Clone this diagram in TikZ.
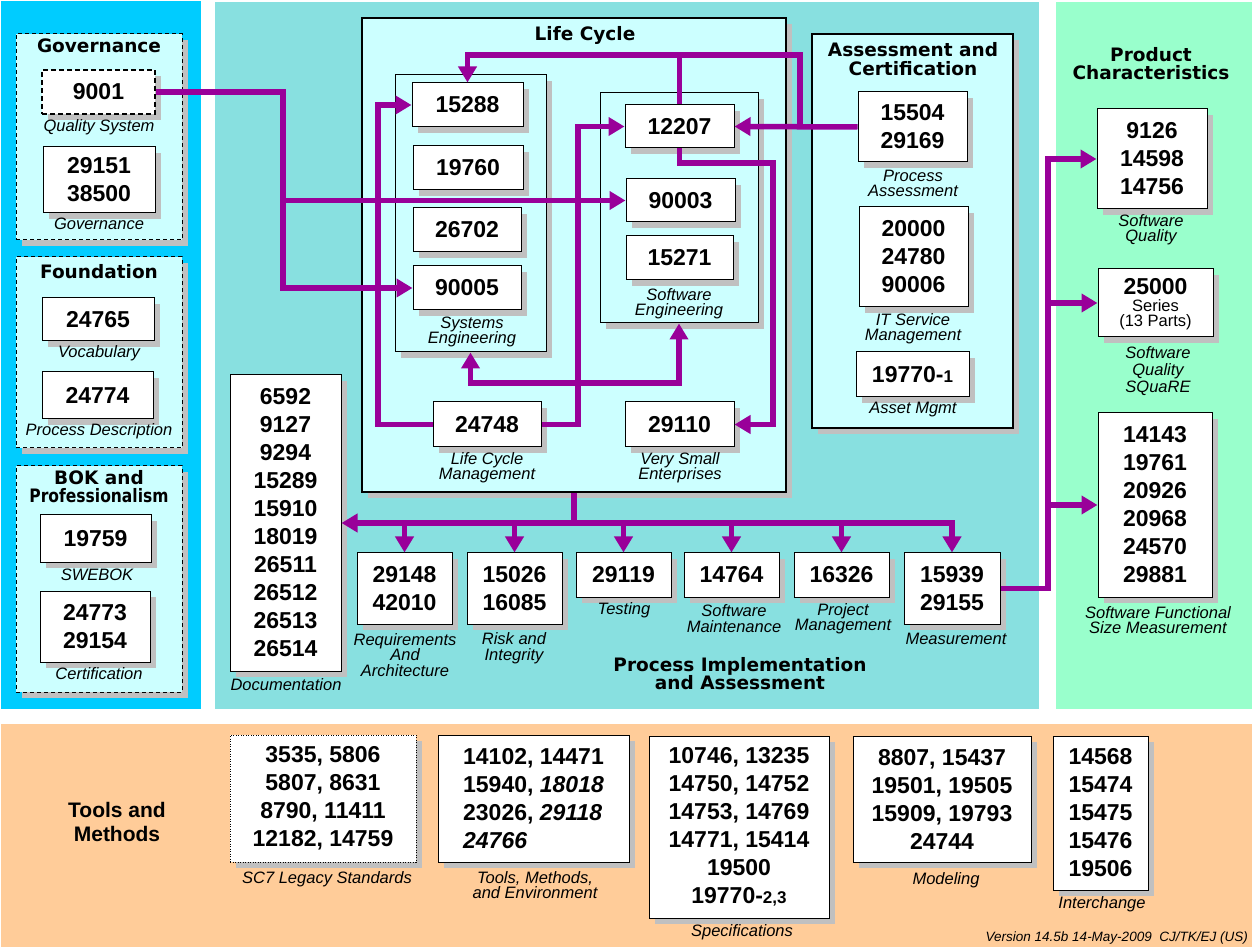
\documentclass[tikz,border=0pt]{standalone}
\usepackage{fontspec}
\setmainfont{Liberation Sans}
\newfontfamily\titlefont{DejaVu Sans}
\usetikzlibrary{arrows.meta,shadows}
\definecolor{bluepanel}{HTML}{00CCFF}
\definecolor{tealpanel}{HTML}{88E0E0}
\definecolor{lightcyan}{HTML}{CCFFFF}
\definecolor{greenpanel}{HTML}{99FFCC}
\definecolor{orangepanel}{HTML}{FFCC99}
\definecolor{purp}{HTML}{990099}
\definecolor{shgray}{HTML}{C0C0C0}
\newcommand\numsz{\fontsize{23}{28}\selectfont\bfseries}
\newcommand\lblsz{\fontsize{16.5}{15.5}\selectfont\itshape}
\newcommand\ttlsz{\titlefont\fontsize{18.5}{18.5}\selectfont\bfseries}
\newcommand\smsz{\fontsize{16.5}{16}\selectfont}
\tikzset{
 shad/.style={drop shadow={shadow xshift=6pt, shadow yshift=-6pt, fill=shgray, opacity=1}},
 grpbox/.style={draw=black, dash pattern=on 4pt off 3pt, line width=1pt, fill=lightcyan, inner sep=0pt, shad},
 nbox/.style={draw=black, line width=1pt, fill=white, inner sep=0pt, align=center, font=\numsz, shad},
 dashbox/.style={dash pattern=on 5pt off 3pt, line width=1.3pt},
 dotbox/.style={dash pattern=on 1pt off 1.5pt, line width=0.8pt},
 secbox/.style={draw=black, line width=1pt, fill=lightcyan, inner sep=0pt, shad},
 bigbox/.style={draw=black, line width=2pt, fill=lightcyan, inner sep=0pt, shad},
 lbl/.style={inner sep=0pt, align=center, font=\lblsz},
 ttl/.style={inner sep=0pt, align=center, font=\ttlsz},
 txt/.style={inner sep=0pt, align=center},
 pline/.style={draw=purp, line width=5.5pt},
 arr/.style={pline, -{Triangle[length=16pt,width=18pt]}},
}
\begin{document}
\begin{tikzpicture}[x=1pt,y=-1pt]
\useasboundingbox (0,0) rectangle (1254,949);
\fill[white] (0,0) rectangle (1254,949);
% panels
\fill[bluepanel] (1,1) rectangle (201,709);
\fill[tealpanel] (215,2) rectangle (1039,709);
\fill[greenpanel] (1056,2) rectangle (1252,709);
\fill[orangepanel] (1,724) rectangle (1252,947);

% ---------- left panel ----------
\node[grpbox, minimum width=166pt, minimum height=206pt] (govgrp) at (99,137) {};
\node[ttl] (govttl) at (99,46) {Governance};
\node[nbox, dashbox, minimum width=113pt, minimum height=44pt] (n9001) at (98.5,92) {9001};
\node[lbl] (lqs) at (99,127) {Quality System};
\node[nbox, minimum width=112pt, minimum height=66pt] (n29151) at (99,180) {29151\\38500};
\node[lbl] (lgov) at (99,224) {Governance};

\node[grpbox, minimum width=166pt, minimum height=191pt] (fndgrp) at (99,352.5) {};
\node[ttl] (fndttl) at (99,272) {Foundation};
\node[nbox, minimum width=112pt, minimum height=43pt] (n24765) at (98,319.5) {24765};
\node[lbl] (lvoc) at (99,353) {Vocabulary};
\node[nbox, minimum width=111pt, minimum height=47pt] (n24774) at (97.5,395.5) {24774};
\node[lbl] (lpd) at (99,431) {Process Description};

\node[grpbox, minimum width=166pt, minimum height=226pt] (bokgrp) at (99,579) {};
\node[ttl] (bokttl) at (99,486.5) {BOK and\\\scalebox{0.84}[1]{Professionalism}};
\node[nbox, minimum width=111pt, minimum height=47pt] (n19759) at (95.5,538.5) {19759};
\node[lbl] (lswe) at (97,575) {SWEBOK};
\node[nbox, minimum width=110pt, minimum height=71pt] (n24773) at (95,626.5) {24773\\29154};
\node[lbl] (lcert) at (99,674) {Certification};

% ---------- life cycle ----------
\node[bigbox, minimum width=424pt, minimum height=474pt] (lcbox) at (574,255) {};
\node[ttl] (lcttl) at (585,35) {Life Cycle};
\node[secbox, minimum width=151pt, minimum height=277pt] (sysbox) at (470.5,213.5) {};
\node[nbox, minimum width=111pt, minimum height=44pt] (n15288) at (467.5,105) {15288};
\node[nbox, minimum width=110pt, minimum height=44pt] (n19760) at (468,168) {19760};
\node[nbox, minimum width=108pt, minimum height=44pt] (n26702) at (467,230) {26702};
\node[nbox, minimum width=108pt, minimum height=44pt] (n90005) at (467,288) {90005};
\node[lbl] (lsys) at (472,332) {Systems\\Engineering};
\node[secbox, minimum width=158pt, minimum height=230pt] (swbox) at (679,208) {};
\node[nbox, minimum width=109pt, minimum height=43pt] (n12207) at (679.5,126.5) {12207};
\node[nbox, minimum width=109pt, minimum height=43pt] (n90003) at (680.5,200.5) {90003};
\node[nbox, minimum width=107pt, minimum height=44pt] (n15271) at (679.5,258) {15271};
\node[lbl] (lsw) at (679,303.5) {Software\\Engineering};
\node[nbox, minimum width=108pt, minimum height=45pt] (n24748) at (487,424.5) {24748};
\node[lbl] (llcm) at (487,467.5) {Life Cycle\\Management};
\node[nbox, minimum width=109pt, minimum height=45pt] (n29110) at (679.5,424.5) {29110};
\node[lbl] (lvse) at (680,467.5) {Very Small\\Enterprises};

% ---------- assessment ----------
\node[bigbox, minimum width=201pt, minimum height=394pt] (acbox) at (912.5,231) {};
\node[ttl] (acttl) at (913,59) {Assessment and\\Certification};
\node[nbox, minimum width=109pt, minimum height=70pt] (n15504) at (912.5,127) {15504\\29169};
\node[lbl] (lpa) at (913,183.5) {Process\\Assessment};
\node[nbox, minimum width=109pt, minimum height=100pt] (n20000) at (913.5,257) {20000\\24780\\90006};
\node[lbl] (litsm) at (913,328.5) {IT Service\\Management};
\node[nbox, minimum width=113pt, minimum height=45pt] (n19770) at (912.5,374.5) {19770-{\fontsize{17}{17}\selectfont 1}};
\node[lbl] (lam) at (913,410) {Asset Mgmt};

% ---------- process implementation ----------
\node[nbox, minimum width=111pt, minimum height=296pt] (doc) at (285.5,523) {6592\\9127\\9294\\15289\\15910\\18019\\26511\\26512\\26513\\26514};
\node[lbl] (ldoc) at (286,685) {Documentation};
\node[nbox, minimum width=95pt, minimum height=71pt] (n29148) at (404.5,588.5) {29148\\42010};
\node[lbl] (lra) at (405,655) {Requirements\\And\\Architecture};
\node[nbox, minimum width=95pt, minimum height=71pt] (n15026) at (514.5,588.5) {15026\\16085};
\node[lbl] (lri) at (514,648) {Risk and\\Integrity};
\node[nbox, minimum width=95pt, minimum height=44pt] (n29119) at (623.5,575) {29119};
\node[lbl] (ltest) at (624,610) {Testing};
\node[nbox, minimum width=95pt, minimum height=44pt] (n14764) at (731.5,575) {14764};
\node[lbl] (lsm) at (734,618.5) {Software\\Maintenance};
\node[nbox, minimum width=95pt, minimum height=44pt] (n16326) at (841.5,575) {16326};
\node[lbl] (lpm) at (843,618.5) {Project\\Management};
\node[nbox, minimum width=96pt, minimum height=71pt] (n15939) at (952,588.5) {15939\\29155};
\node[lbl] (lmeas) at (956,639) {Measurement};
\node[ttl] (piattl) at (740,673.5) {Process Implementation\\and Assessment};

% ---------- product characteristics ----------
\node[ttl] (pcttl) at (1151,63.5) {Product\\Characteristics};
\node[nbox, minimum width=110pt, minimum height=100pt] (n9126) at (1152,159) {9126\\14598\\14756};
\node[lbl] (lsq) at (1151,229.5) {Software\\Quality};
\node[nbox, minimum width=115pt, minimum height=68pt] (n25000) at (1155.5,303) {};
\node[txt, font=\numsz] (t25000) at (1155.5,287) {25000};
\node[txt, font=\smsz] (tser) at (1155.5,306) {Series};
\node[txt, font=\smsz] (tparts) at (1155.5,322) {(13 Parts)};
\node[lbl, font={\fontsize{16.5}{17}\selectfont\itshape}] (lsquare) at (1158,371) {Software\\Quality\\SQuaRE};
\node[nbox, minimum width=114pt, minimum height=184pt] (n14143) at (1155,505) {14143\\19761\\20926\\20968\\24570\\29881};
\node[lbl] (lfsm) at (1158,620) {Software Functional\\Size Measurement};

% ---------- tools and methods ----------
\node[txt, font={\fontsize{21}{24}\selectfont\bfseries}] (tmttl) at (117,822) {Tools and\\Methods};
\node[nbox, dotbox, minimum width=186pt, minimum height=127pt] (sc7) at (323,798.5) {3535, 5806\\5807, 8631\\8790, 11411\\12182, 14759};
\node[lbl] (lsc7) at (327,879) {SC7 Legacy Standards};
\node[nbox, align=left, minimum width=191pt, minimum height=127pt] (tme) at (533.5,798.5) {14102, 14471\\15940, \textit{18018}\\23026, \textit{29118}\\\textit{24766}};
\node[lbl] (ltme) at (535,885) {Tools, Methods,\\and Environment};
\node[nbox, minimum width=180pt, minimum height=182pt] (spec) at (739,827) {10746, 13235\\14750, 14752\\14753, 14769\\14771, 15414\\19500\\19770-{\fontsize{17}{17}\selectfont 2,3}};
\node[lbl] (lspec) at (742,932) {Specifications};
\node[nbox, minimum width=178pt, minimum height=126pt] (model) at (942,799) {8807, 15437\\19501, 19505\\15909, 19793\\24744};
\node[lbl] (lmod) at (946,880) {Modeling};
\node[nbox, minimum width=95pt, minimum height=154pt] (inter) at (1100.5,813) {14568\\15474\\15475\\15476\\19506};
\node[lbl] (lint) at (1102,904) {Interchange};
\node[txt, anchor=east, font={\fontsize{13.5}{14}\selectfont\itshape}] (ver) at (1248,938) {Version 14.5b 14-May-2009\ \ CJ/TK/EJ (US)};

% ---------- connectors ----------
\coordinate (c283) at (283,92);
\draw[arr] (n9001.east) -- (c283) |- (n90005.west);
\draw[arr] (c283 |- n90003.west) -- (n90003.west);

\coordinate (c378) at (378,105);
\draw[arr] (n24748.west) -| (c378) -- (n15288.west);
\coordinate (c578) at (578,126.5);
\draw[arr] (n24748.east) -| (c578) -- (n12207.west);
\coordinate (jSE) at (578,383);
\draw[arr] (jSE) -| (sysbox.south);
\draw[arr] (jSE) -| (swbox.south);

\coordinate (jA) at (800,127);
\coordinate (jTop) at (800,55);
\draw[arr] (n15504.west) -- (n12207.east);
\draw[arr] (jA) -- (jTop) -| (n15288.north);
\draw[pline] (n12207.north) -- (n12207.north |- jTop);

\coordinate (c773) at (773,163);
\draw[arr] (n12207.south) |- (c773) |- (n29110.east);

\coordinate (jBus) at (574,523);
\draw[pline] (lcbox.south) -- (jBus);
\draw[arr] (jBus) -- (doc.east);
\draw[arr] (jBus) -| (n15939.north);
\draw[arr] (n29148.north |- jBus) -- (n29148.north);
\draw[arr] (n15026.north |- jBus) -- (n15026.north);
\draw[arr] (n29119.north |- jBus) -- (n29119.north);
\draw[arr] (n14764.north |- jBus) -- (n14764.north);
\draw[arr] (n16326.north |- jBus) -- (n16326.north);

\coordinate (jM) at (1048,588.5);
\draw[arr] (n15939.east) -- (jM) |- (n9126.west);
\draw[arr] (jM |- n25000.west) -- (n25000.west);
\draw[arr] (jM |- n14143.west) -- (n14143.west);
\end{tikzpicture}
\end{document}
